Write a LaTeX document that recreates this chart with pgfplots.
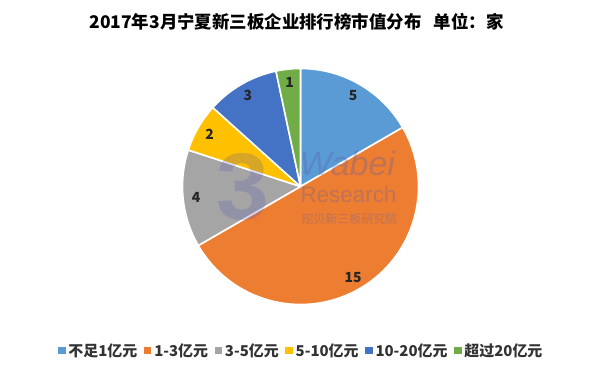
\documentclass[border=0pt]{standalone}
\usepackage{pgfplots}
\pgfplotsset{compat=1.18}
\usepackage{pgfplotstable}
\usepackage{fontspec}
\setmainfont{Noto Sans CJK SC}
\newfontfamily\wmfont{Liberation Sans}
\definecolor{pc0}{HTML}{5B9BD5}
\definecolor{pc1}{HTML}{ED7D31}
\definecolor{pc2}{HTML}{A5A5A5}
\definecolor{pc3}{HTML}{FFC000}
\definecolor{pc4}{HTML}{4472C4}
\definecolor{pc5}{HTML}{70AD47}
\newcommand\lblfont{\bfseries\fontsize{14}{16}\selectfont}

\pgfplotstableread[col sep=comma]{
label,value
不足1亿元,5
1-3亿元,15
3-5亿元,4
5-10亿元,2
10-20亿元,3
超过20亿元,1
}\piedata

\def\total{0}
\pgfplotsforeachungrouped \i in {0,...,5}{%
  \pgfplotstablegetelem{\i}{value}\of\piedata
  \pgfmathsetmacro\total{\total+\pgfplotsretval}}
\def\cur{90}
\pgfplotsforeachungrouped \i in {0,...,5}{%
  \pgfplotstablegetelem{\i}{value}\of\piedata
  \edef\v{\pgfplotsretval}%
  \pgfmathsetmacro\e{\cur-\v/\total*360}%
  \pgfmathsetmacro\m{(\cur+\e)/2}%
  \expandafter\xdef\csname ps\i\endcsname{\cur}%
  \expandafter\xdef\csname pe\i\endcsname{\e}%
  \expandafter\xdef\csname pm\i\endcsname{\m}%
  \expandafter\xdef\csname pv\i\endcsname{\v}%
  \pgfplotstablegetelem{\i}{label}\of\piedata
  \expandafter\xdef\csname pl\i\endcsname{\pgfplotsretval}%
  \let\cur\e}

\begin{document}
\begin{tikzpicture}
\begin{axis}[
  width=600bp, height=374bp, scale only axis,
  xmin=0, xmax=600, ymin=0, ymax=374,
  hide axis, clip=false,
  legend columns=6,
  legend style={at={(axis cs:302,23.5)}, anchor=center, draw=none, fill=none,
    font=\bfseries\fontsize{15}{17}\selectfont, text=black!80,
    /tikz/every even column/.append style={column sep=3bp},
    inner sep=0pt, nodes={inner xsep=3.5bp, inner ysep=2bp}},
  legend cell align=left,
]
\path (axis cs:0,0) rectangle (axis cs:600,374);
\pgfplotsinvokeforeach{0,...,5}{%
  \edef\tmp{\noexpand\fill[pc#1, draw=white, line width=1.6bp, line join=round]
    (axis cs:300.5,187.5) -- ++(\csname ps#1\endcsname:118bp)
    arc[start angle=\csname ps#1\endcsname, end angle=\csname pe#1\endcsname, radius=118bp] -- cycle;}%
  \tmp
  \addlegendimage{legend image code/.code={\fill[pc#1] (0bp,-3bp) rectangle (6.5bp,3.5bp);}}
  \addlegendentry{\csname pl#1\endcsname}
}
% watermark
\node[font=\wmfont\bfseries\fontsize{95}{95}\selectfont, text=gray!60!blue, opacity=0.22] at (axis cs:243,187) {3};
\node[font=\wmfont\itshape\fontsize{34}{34}\selectfont, text=gray!70!blue, opacity=0.3, anchor=west] at (axis cs:296,211) {Wabei};
\node[font=\wmfont\fontsize{22.5}{22.5}\selectfont, text=gray!70!blue, opacity=0.3, anchor=west] at (axis cs:297,180) {Research};
\node[font=\fontsize{12}{12}\selectfont, text=gray!70!blue, opacity=0.3, anchor=west] at (axis cs:298,155) {挖贝新三板研究院};
\pgfplotsinvokeforeach{0,...,5}{%
  \edef\tmp{\noexpand\path (axis cs:300.5,187.5) ++(\csname pm#1\endcsname:105bp)
    node[font=\noexpand\lblfont, text=black!85] {\csname pv#1\endcsname};}%
  \tmp
}
\node[font=\bfseries\fontsize{17.5}{20}\selectfont, text=black] at (axis cs:296.5,352) {2017年3月宁夏新三板企业排行榜市值分布\hspace{0.7em}单位：家};
\end{axis}
\end{tikzpicture}
\end{document}
